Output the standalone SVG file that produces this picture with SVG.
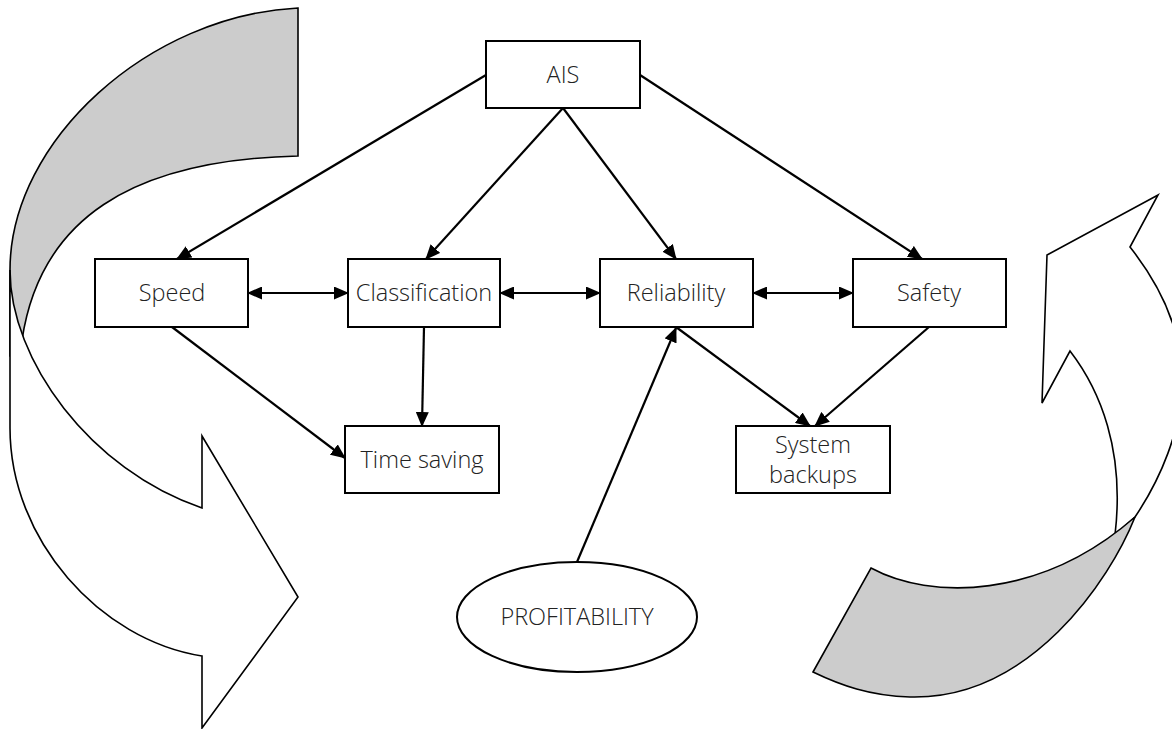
<svg xmlns="http://www.w3.org/2000/svg" width="1172" height="729" viewBox="0 0 1172 729">
  <style>
    .box { fill: #ffffff; stroke: #000000; stroke-width: 2; }
    .lbl { font-family: "Open Sans", "Noto Sans", "Liberation Sans", sans-serif; font-size: 23.5px; font-weight: 300; fill: #222222; text-anchor: middle; }
    .con { stroke: #000000; stroke-width: 2.2; fill: none; }
    .ribbon { stroke: #000000; stroke-width: 1.6; stroke-linejoin: miter; }
    .gray { fill: #cccccc; }
    .white { fill: #ffffff; }
  </style>
  <defs>
    <marker id="ah" viewBox="0 0 15 13" refX="14" refY="6.5" markerWidth="15" markerHeight="13" markerUnits="userSpaceOnUse" orient="auto-start-reverse">
      <path d="M0,0 L15,6.5 L0,13 Z" fill="#000000"/>
    </marker>
  </defs>

  <g id="left-cycle-arrow">
    <path class="ribbon gray" d="M298,8 C150,15 10,140 10,270 L10,355 L22,340 C40,220 130,160 298,156 Z"/>
    <path class="ribbon white" d="M10,270 L10,428 C10,540 100,640 202,656 L202,728 L298,597 L202,436 L202,508 C90,470 10,360 10,270 Z"/>
  </g>

  <g id="right-cycle-arrow">
    <path class="ribbon white" d="M1042,403 L1047,255 L1158,195 L1130,247 C1160,285 1182,330 1182,380 C1182,430 1160,480 1135,517 L1115,535 C1125,450 1100,390 1070,351 Z"/>
    <path class="ribbon gray" d="M871,568 C930,600 1040,600 1135,517 C1110,580 1030,700 910,697 C870,696 840,685 813,672 Z"/>
  </g>

  <g id="connectors">
    <path class="con" d="M486,75 L177,259" marker-end="url(#ah)"/>
    <path class="con" d="M563,108 L426,259" marker-end="url(#ah)"/>
    <path class="con" d="M563,108 L676,259" marker-end="url(#ah)"/>
    <path class="con" d="M640,75 L922,259" marker-end="url(#ah)"/>
    <path class="con" d="M248,293 L348,293" marker-start="url(#ah)" marker-end="url(#ah)"/>
    <path class="con" d="M500,293 L600,293" marker-start="url(#ah)" marker-end="url(#ah)"/>
    <path class="con" d="M753,293 L853,293" marker-start="url(#ah)" marker-end="url(#ah)"/>
    <path class="con" d="M172,327 L345,458" marker-end="url(#ah)"/>
    <path class="con" d="M424,327 L422,426" marker-end="url(#ah)"/>
    <path class="con" d="M676,327 L810,426" marker-end="url(#ah)"/>
    <path class="con" d="M929,327 L815,426" marker-end="url(#ah)"/>
    <path class="con" d="M577,562 L676,328" marker-end="url(#ah)"/>
  </g>

  <g id="node-ais">
    <rect class="box" x="486" y="41" width="154" height="67"/>
    <text class="lbl" x="563" y="83">AIS</text>
  </g>
  <g id="node-speed">
    <rect class="box" x="95" y="259" width="153" height="68"/>
    <text class="lbl" x="172" y="301">Speed</text>
  </g>
  <g id="node-classification">
    <rect class="box" x="348" y="259" width="152" height="68"/>
    <text class="lbl" x="424" y="301">Classification</text>
  </g>
  <g id="node-reliability">
    <rect class="box" x="600" y="259" width="153" height="68"/>
    <text class="lbl" x="676" y="301">Reliability</text>
  </g>
  <g id="node-safety">
    <rect class="box" x="853" y="259" width="153" height="68"/>
    <text class="lbl" x="929" y="301">Safety</text>
  </g>
  <g id="node-time-saving">
    <rect class="box" x="345" y="426" width="154" height="67"/>
    <text class="lbl" x="422" y="468">Time saving</text>
  </g>
  <g id="node-system-backups">
    <rect class="box" x="736" y="426" width="154" height="67"/>
    <text class="lbl" x="813" y="453">System</text>
    <text class="lbl" x="813" y="483">backups</text>
  </g>
  <g id="node-profitability">
    <ellipse class="box" cx="577" cy="617" rx="120" ry="55"/>
    <text class="lbl" x="577" y="625">PROFITABILITY</text>
  </g>
</svg>
